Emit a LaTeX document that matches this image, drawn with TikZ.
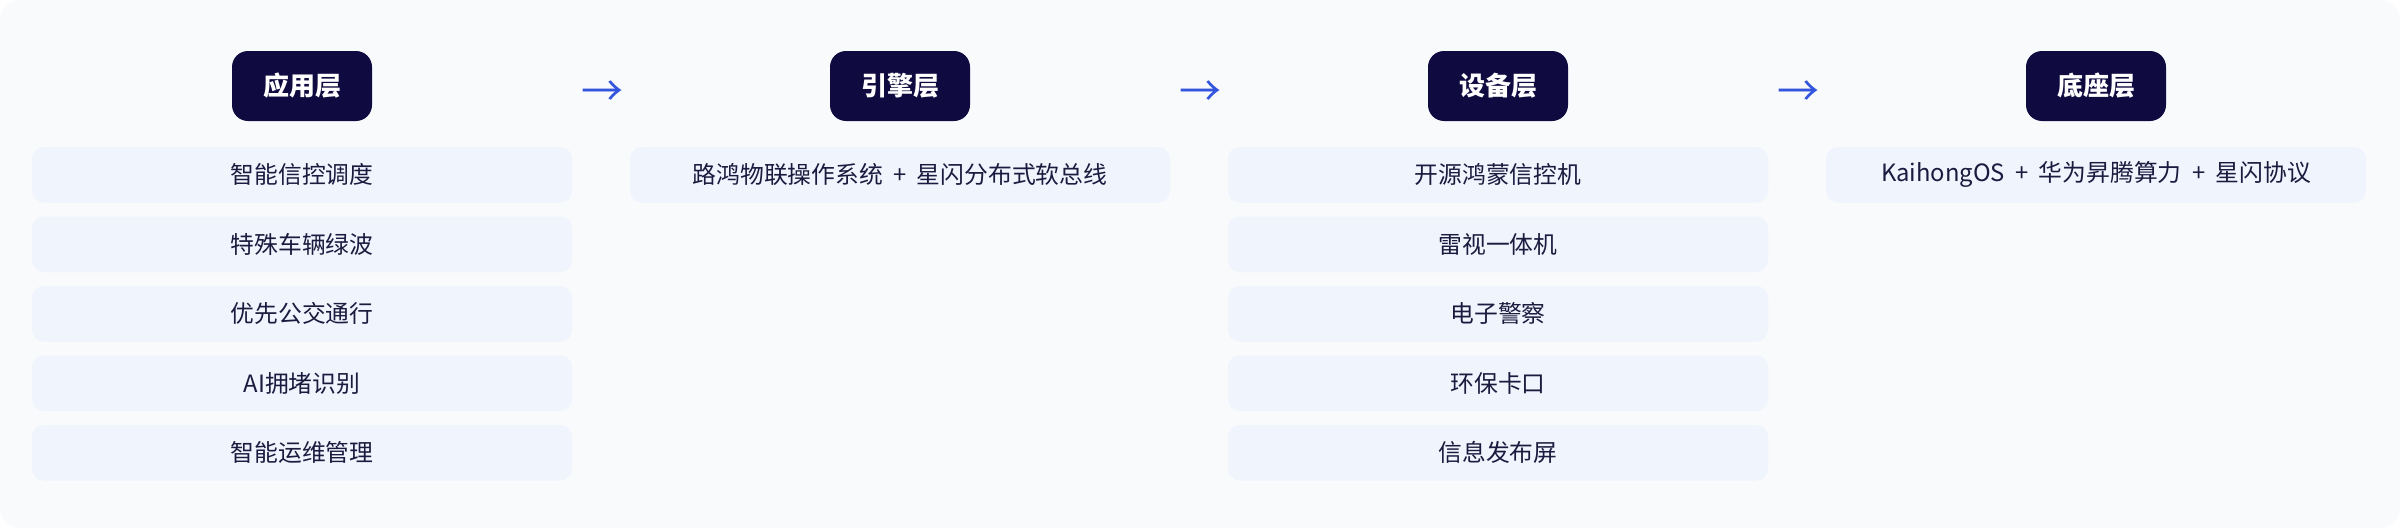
\documentclass[tikz,border=0pt]{standalone}
\usepackage{fontspec}
\setmainfont{Noto Sans CJK SC}
\usetikzlibrary{calc}
\definecolor{bgc}{HTML}{F8FAFC}
\definecolor{navy}{HTML}{0F0A40}
\definecolor{itemfill}{HTML}{EFF4FD}
\definecolor{txt}{HTML}{1C1B3F}
\definecolor{arrowc}{HTML}{3355DD}
\newcommand{\plussep}{\hspace{5.2pt}+\hspace{5.2pt}}
\begin{document}
\begin{tikzpicture}[x=0.5pt,y=-0.5pt,
  header/.style={fill=navy, rounded corners=8pt, minimum width=70pt, minimum height=35pt,
    text=white, font=\fontsize{13}{15}\selectfont\bfseries, inner sep=0pt},
  item/.style={fill=itemfill, rounded corners=6pt, minimum width=270pt, minimum height=27.75pt,
    text=txt, font=\fontsize{11.9}{14}\selectfont, inner sep=0pt},
  flowarrow/.style={text=arrowc, font=\fontsize{21}{23}\selectfont, inner sep=0pt}]
\useasboundingbox (0,0) rectangle (2400,530);
\fill[white] (0,0) rectangle (2400,530);
\fill[bgc, rounded corners=10pt] (0,0) rectangle (2400,528);

% headers
\node[header] (h1) at (302,86) {应用层};
\node[header] (h2) at (900,86) {引擎层};
\node[header] (h3) at (1498,86) {设备层};
\node[header] (h4) at (2096,86) {底座层};

% arrows
\node[flowarrow] (a1) at ($(h1)!0.5!(h2)+(1,8)$) {→};
\node[flowarrow] (a2) at ($(h2)!0.5!(h3)+(1,8)$) {→};
\node[flowarrow] (a3) at ($(h3)!0.5!(h4)+(1,8)$) {→};

% column 1
\node[item] (c1r1) at (302,174.75) {智能信控调度};
\node[item] (c1r2) at (302,244.25) {特殊车辆绿波};
\node[item] (c1r3) at (302,313.75) {优先公交通行};
\node[item] (c1r4) at (302,383.25) {AI拥堵识别};
\node[item] (c1r5) at (302,452.75) {智能运维管理};

% column 2
\node[item] (c2r1) at (900,174.75) {路鸿物联操作系统\plussep 星闪分布式软总线};

% column 3
\node[item] (c3r1) at (1498,174.75) {开源鸿蒙信控机};
\node[item] (c3r2) at (1498,244.25) {雷视一体机};
\node[item] (c3r3) at (1498,313.75) {电子警察};
\node[item] (c3r4) at (1498,383.25) {环保卡口};
\node[item] (c3r5) at (1498,452.75) {信息发布屏};

% column 4
\node[item] (c4r1) at (2096,174.75) {KaihongOS\plussep 华为昇腾算力\plussep 星闪协议};
\end{tikzpicture}
\end{document}
